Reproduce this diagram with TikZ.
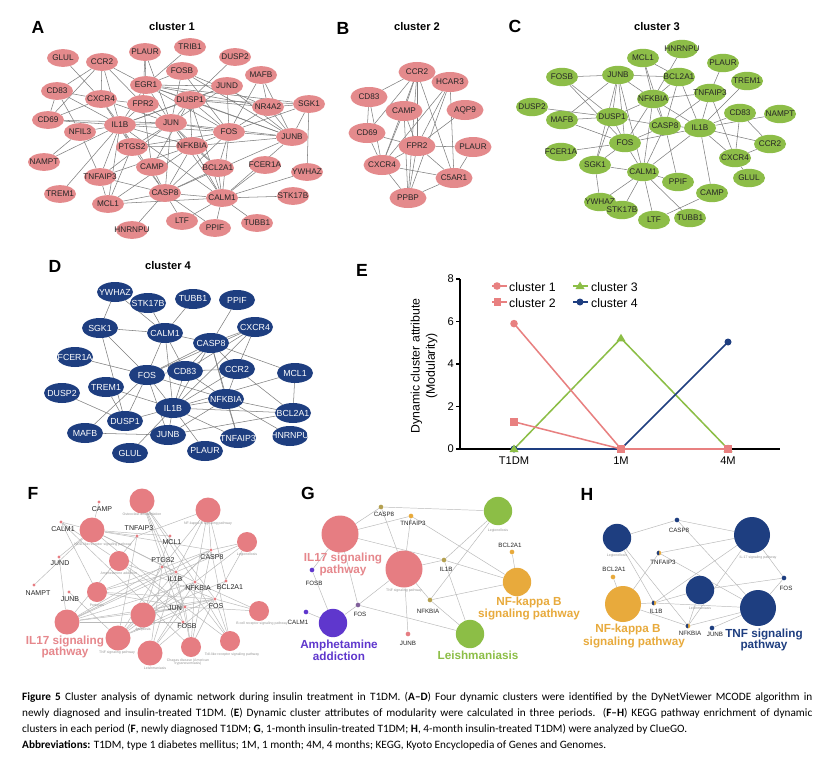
\documentclass[tikz,border=0pt]{standalone}
\usepackage{fontspec}
\setmainfont{Liberation Sans}
\newfontfamily\capfont{Carlito}
\usetikzlibrary{shapes.geometric,backgrounds,calc}
\definecolor{pinkN}{RGB}{228,138,140}
\definecolor{greenN}{RGB}{141,189,72}
\definecolor{navyN}{RGB}{30,62,128}
\definecolor{edgegray}{RGB}{125,125,125}
\definecolor{ledge}{RGB}{185,185,185}
\definecolor{pinkF}{RGB}{230,125,130}
\definecolor{pinkT}{RGB}{230,135,140}
\definecolor{greenG}{RGB}{140,190,70}
\definecolor{orangeG}{RGB}{232,170,60}
\definecolor{purpleG}{RGB}{95,55,205}
\definecolor{oliveG}{RGB}{180,160,80}
\definecolor{tinygray}{RGB}{150,150,150}
\definecolor{cA}{RGB}{232,128,128}
\newcommand\fs[1]{\fontsize{#1}{#1}\selectfont}
\newcommand\gn[4]{\node[#1] (#2) at (#3) {\makebox[0pt]{#4}};}
\begin{document}
\begin{tikzpicture}[x=0.03cm,y=-0.03cm,
  edge/.style={draw=edgegray, line width=0.45pt},
  ledgeS/.style={draw=ledge, line width=0.4pt},
  pA/.style={ellipse, fill=pinkN, minimum width=0.96cm, minimum height=0.53cm, inner sep=0pt, font=\fs{7}, text=black!85},
  pB/.style={pA, minimum width=1.11cm, minimum height=0.6cm},
  gC/.style={ellipse, fill=greenN, minimum width=0.96cm, minimum height=0.55cm, inner sep=0pt, font=\fs{7}, text=black!85},
  bD/.style={ellipse, fill=navyN, minimum width=1.08cm, minimum height=0.6cm, inner sep=0pt, font=\fs{7.5}, text=white},
  letter/.style={font=\fs{15}\bfseries},
  ttl/.style={font=\fs{9.5}\bfseries},
  fbig/.style={circle, fill=pinkF, inner sep=0pt, minimum size=0.75cm},
  fmid/.style={circle, fill=pinkF, inner sep=0pt, minimum size=0.6cm},
  fdot/.style={circle, fill=pinkF, inner sep=0pt, minimum size=0.1cm},
  gdot/.style={circle, inner sep=0pt, minimum size=0.14cm},
  glab/.style={font=\fs{6}, text=black!85, inner sep=0pt},
  hlab/.style={font=\fs{5.3}, text=black!85, inner sep=0pt},
  tiny/.style={font=\fs{3}, text=tinygray, inner sep=0pt, align=center},
  bigl/.style={font=\fs{10}\bfseries, inner sep=0pt, align=center},
  capline/.style={font=\capfont\fs{9.6}, inner sep=0pt, anchor=base west}
]
\begin{pgfonlayer}{background}
\fill[white] (0,0) rectangle (824,758);
\end{pgfonlayer}
\useasboundingbox (0,0) rectangle (824,758);

%% ================= A =================
\node[letter] (labA) at (38,27) {A};
\node[ttl] (tA) at (172,27) {cluster 1};
\gn{pA}{aGLUL}{63,58}{GLUL}
\gn{pA}{aCCR2}{102,62}{CCR2}
\gn{pA}{aPLAUR}{145,52}{PLAUR}
\gn{pA}{aTRIB1}{190,47}{TRIB1}
\gn{pA}{aDUSP2}{235,57}{DUSP2}
\gn{pA}{aFOSB}{182,71}{FOSB}
\gn{pA}{aMAFB}{261,75}{MAFB}
\gn{pA}{aEGR1}{146,85}{EGR1}
\gn{pA}{aJUND}{227,86}{JUND}
\gn{pA}{aCD83}{57,91}{CD83}
\gn{pA}{aCXCR4}{101,99}{CXCR4}
\gn{pA}{aFPR2}{143,104}{FPR2}
\gn{pA}{aDUSP1}{190,100}{DUSP1}
\gn{pA}{aNR4A2}{268,107}{NR4A2}
\gn{pA}{aSGK1}{309,104}{SGK1}
\gn{pA}{aCD69}{48,120}{CD69}
\gn{pA}{aIL1B}{120,125}{IL1B}
\gn{pA}{aJUN}{171,123}{JUN}
\gn{pA}{aNFIL3}{80,132}{NFIL3}
\gn{pA}{aFOS}{229,132}{FOS}
\gn{pA}{aJUNB}{292,137}{JUNB}
\gn{pA}{aPTGS2}{132,147}{PTGS2}
\gn{pA}{aNFKBIA}{192,146}{NFKBIA}
\gn{pA}{aNAMPT}{44,162}{NAMPT}
\gn{pA}{aCAMP}{152,167}{CAMP}
\gn{pA}{aBCL2A1}{218,168}{BCL2A1}
\gn{pA}{aFCER1A}{265,165}{FCER1A}
\gn{pA}{aYWHAZ}{307,172}{YWHAZ}
\gn{pA}{aTNFAIP3}{100,177}{TNFAIP3}
\gn{pA}{aTREM1}{60,194}{TREM1}
\gn{pA}{aCASP8}{165,193}{CASP8}
\gn{pA}{aCALM1}{222,198}{CALM1}
\gn{pA}{aSTK17B}{293,196}{STK17B}
\gn{pA}{aMCL1}{108,204}{MCL1}
\gn{pA}{aLTF}{182,221}{LTF}
\gn{pA}{aPPIF}{215,228}{PPIF}
\gn{pA}{aTUBB1}{257,223}{TUBB1}
\gn{pA}{aHNRNPU}{132,230}{HNRNPU}
\begin{pgfonlayer}{background}
\foreach \u/\v in {aGLUL/aCXCR4, aCCR2/aCD83, aCCR2/aCD69, aCCR2/aCXCR4, aCCR2/aIL1B, aCCR2/aFPR2, aCCR2/aEGR1, aCD83/aCXCR4, aCD83/aCD69, aCD83/aIL1B, aCD83/aNFIL3, aCD69/aCXCR4, aCD69/aIL1B, aCD69/aJUN, aPLAUR/aEGR1, aPLAUR/aFPR2, aPLAUR/aJUN, aTRIB1/aEGR1, aDUSP2/aDUSP1, aFOSB/aEGR1, aFOSB/aJUN, aFOSB/aFOS, aFOSB/aJUNB, aFOSB/aNR4A2, aMAFB/aFOS, aMAFB/aJUNB, aMAFB/aNR4A2, aEGR1/aJUND, aEGR1/aDUSP1, aEGR1/aNR4A2, aEGR1/aJUN, aEGR1/aFOS, aEGR1/aJUNB, aEGR1/aIL1B, aEGR1/aSGK1, aJUND/aDUSP1, aJUND/aFOS, aJUND/aJUNB, aJUND/aJUN, aJUND/aIL1B, aDUSP1/aNR4A2, aDUSP1/aJUNB, aDUSP1/aFOS, aDUSP1/aJUN, aDUSP1/aSGK1, aDUSP1/aCALM1, aDUSP1/aNFKBIA, aDUSP1/aIL1B, aDUSP1/aCAMP, aNR4A2/aJUNB, aNR4A2/aFOS, aNR4A2/aSGK1, aSGK1/aJUNB, aSGK1/aYWHAZ, aSGK1/aFOS, aCXCR4/aIL1B, aCXCR4/aFPR2, aCXCR4/aJUN, aCXCR4/aPTGS2, aFPR2/aIL1B, aFPR2/aCAMP, aFPR2/aJUN, aIL1B/aJUN, aIL1B/aNFKBIA, aIL1B/aPTGS2, aIL1B/aFOS, aIL1B/aCASP8, aIL1B/aTNFAIP3, aIL1B/aMCL1, aIL1B/aTREM1, aIL1B/aNAMPT, aIL1B/aNFIL3, aIL1B/aCALM1, aJUN/aFOS, aJUN/aNFKBIA, aJUN/aJUNB, aJUN/aPTGS2, aJUN/aCASP8, aJUN/aBCL2A1, aJUN/aCALM1, aJUN/aTNFAIP3, aNFIL3/aNAMPT, aNFIL3/aTNFAIP3, aFOS/aJUNB, aFOS/aNFKBIA, aFOS/aCALM1, aFOS/aCASP8, aFOS/aBCL2A1, aFOS/aPTGS2, aJUNB/aNFKBIA, aJUNB/aCALM1, aJUNB/aCASP8, aNFKBIA/aPTGS2, aNFKBIA/aCASP8, aNFKBIA/aBCL2A1, aNFKBIA/aTNFAIP3, aNFKBIA/aCALM1, aNFKBIA/aMCL1, aPTGS2/aCASP8, aPTGS2/aMCL1, aFCER1A/aCALM1, aYWHAZ/aCALM1, aCAMP/aCASP8, aBCL2A1/aCASP8, aBCL2A1/aCALM1, aCASP8/aCALM1, aCASP8/aMCL1, aCASP8/aLTF, aCASP8/aPPIF, aCASP8/aHNRNPU, aCASP8/aTNFAIP3, aCALM1/aSTK17B, aCALM1/aTUBB1, aCALM1/aLTF, aCALM1/aPPIF, aCALM1/aMCL1, aMCL1/aTNFAIP3}
  \draw[edge] (\u) -- (\v);
\end{pgfonlayer}

%% ================= B =================
\node[letter] (labB) at (343,28) {B};
\node[ttl] (tB) at (417,27) {cluster 2};
\gn{pB}{bCCR2}{417,72}{CCR2}
\gn{pB}{bHCAR3}{450,82}{HCAR3}
\gn{pB}{bCD83}{369,97}{CD83}
\gn{pB}{bCAMP}{404,111}{CAMP}
\gn{pB}{bAQP9}{465,110}{AQP9}
\gn{pB}{bCD69}{367,133}{CD69}
\gn{pB}{bFPR2}{417,146}{FPR2}
\gn{pB}{bPLAUR}{473,147}{PLAUR}
\gn{pB}{bCXCR4}{382,165}{CXCR4}
\gn{pB}{bC5AR1}{454,178}{C5AR1}
\gn{pB}{bPPBP}{408,198}{PPBP}
\begin{pgfonlayer}{background}
\foreach \u/\v in {bCCR2/bCD83, bCCR2/bCD69, bCCR2/bCAMP, bCCR2/bCXCR4, bCCR2/bFPR2, bCCR2/bPPBP, bCCR2/bC5AR1, bCCR2/bHCAR3, bHCAR3/bFPR2, bHCAR3/bCXCR4, bHCAR3/bPPBP, bHCAR3/bC5AR1, bCD83/bCD69, bCD83/bCXCR4, bCAMP/bCXCR4, bCAMP/bFPR2, bCAMP/bPPBP, bAQP9/bFPR2, bCD69/bCXCR4, bFPR2/bPLAUR, bFPR2/bCXCR4, bFPR2/bC5AR1, bFPR2/bPPBP, bPLAUR/bC5AR1, bCXCR4/bC5AR1, bCXCR4/bPPBP, bC5AR1/bPPBP, bCD69/bFPR2}
  \draw[edge] (\u) -- (\v);
\end{pgfonlayer}

%% ================= C =================
\node[letter] (labC) at (515,26) {C};
\node[ttl] (tC) at (657,27) {cluster 3};
\gn{gC}{cHNRNPU}{682,49}{HNRNPU}
\gn{gC}{cMCL1}{643,58}{MCL1}
\gn{gC}{cPLAUR}{723,63}{PLAUR}
\gn{gC}{cFOSB}{562,77}{FOSB}
\gn{gC}{cJUNB}{618,75}{JUNB}
\gn{gC}{cBCL2A1}{679,77}{BCL2A1}
\gn{gC}{cTREM1}{747,81}{TREM1}
\gn{gC}{cNFKBIA}{653,99}{NFKBIA}
\gn{gC}{cTNFAIP3}{710,93}{TNFAIP3}
\gn{gC}{cDUSP2}{532,107}{DUSP2}
\gn{gC}{cCD83}{740,113}{CD83}
\gn{gC}{cNAMPT}{780,114}{NAMPT}
\gn{gC}{cMAFB}{562,120}{MAFB}
\gn{gC}{cDUSP1}{612,117}{DUSP1}
\gn{gC}{cCASP8}{665,126}{CASP8}
\gn{gC}{cIL1B}{700,128}{IL1B}
\gn{gC}{cFOS}{625,143}{FOS}
\gn{gC}{cCCR2}{770,144}{CCR2}
\gn{gC}{cFCER1A}{561,152}{FCER1A}
\gn{gC}{cCXCR4}{735,158}{CXCR4}
\gn{gC}{cSGK1}{595,165}{SGK1}
\gn{gC}{cCALM1}{643,172}{CALM1}
\gn{gC}{cGLUL}{749,178}{GLUL}
\gn{gC}{cPPIF}{678,182}{PPIF}
\gn{gC}{cYWHAZ}{600,202}{YWHAZ}
\gn{gC}{cCAMP}{712,193}{CAMP}
\gn{gC}{cSTK17B}{622,210}{STK17B}
\gn{gC}{cLTF}{654,220}{LTF}
\gn{gC}{cTUBB1}{690,218}{TUBB1}
\begin{pgfonlayer}{background}
\foreach \u/\v in {cFOSB/cJUNB, cFOSB/cDUSP1, cFOSB/cFOS, cJUNB/cBCL2A1, cJUNB/cNFKBIA, cJUNB/cDUSP1, cJUNB/cFOS, cJUNB/cMAFB, cJUNB/cSGK1, cJUNB/cCALM1, cMCL1/cBCL2A1, cMCL1/cNFKBIA, cMCL1/cCASP8, cHNRNPU/cNFKBIA, cPLAUR/cTNFAIP3, cBCL2A1/cNFKBIA, cBCL2A1/cIL1B, cBCL2A1/cCASP8, cTREM1/cIL1B, cNFKBIA/cTNFAIP3, cNFKBIA/cDUSP1, cNFKBIA/cFOS, cNFKBIA/cCASP8, cNFKBIA/cIL1B, cNFKBIA/cCALM1, cTNFAIP3/cIL1B, cTNFAIP3/cCASP8, cTNFAIP3/cCXCR4, cDUSP2/cDUSP1, cDUSP1/cCASP8, cDUSP1/cFOS, cDUSP1/cSGK1, cDUSP1/cMAFB, cMAFB/cFOS, cCASP8/cIL1B, cCASP8/cFOS, cCASP8/cCALM1, cCASP8/cPPIF, cIL1B/cCD83, cIL1B/cNAMPT, cIL1B/cCCR2, cIL1B/cCXCR4, cIL1B/cFOS, cIL1B/cCALM1, cIL1B/cCAMP, cCD83/cCXCR4, cCD83/cCCR2, cCCR2/cCXCR4, cCXCR4/cGLUL, cFOS/cFCER1A, cFOS/cSGK1, cFOS/cCALM1, cSGK1/cCALM1, cSGK1/cYWHAZ, cCALM1/cPPIF, cCALM1/cYWHAZ, cCALM1/cSTK17B, cCALM1/cLTF, cCALM1/cTUBB1, cCAMP/cLTF}
  \draw[edge] (\u) -- (\v);
\end{pgfonlayer}

%% ================= D =================
\node[letter] (labD) at (55,266) {D};
\node[ttl] (tD) at (168,266) {cluster 4};
\gn{bD}{dYWHAZ}{115,292}{YWHAZ}
\gn{bD}{dSTK17B}{148,303}{STK17B}
\gn{bD}{dTUBB1}{193,299}{TUBB1}
\gn{bD}{dPPIF}{237,300}{PPIF}
\gn{bD}{dSGK1}{100,328}{SGK1}
\gn{bD}{dCALM1}{165,333}{CALM1}
\gn{bD}{dCXCR4}{255,327}{CXCR4}
\gn{bD}{dCASP8}{211,343}{CASP8}
\gn{bD}{dFCER1A}{75,357}{FCER1A}
\gn{bD}{dFOS}{147,375}{FOS}
\gn{bD}{dCD83}{185,371}{CD83}
\gn{bD}{dCCR2}{237,369}{CCR2}
\gn{bD}{dMCL1}{295,373}{MCL1}
\gn{bD}{dTREM1}{106,387}{TREM1}
\gn{bD}{dDUSP2}{62,393}{DUSP2}
\gn{bD}{dNFKBIA}{226,399}{NFKBIA}
\gn{bD}{dIL1B}{173,408}{IL1B}
\gn{bD}{dBCL2A1}{293,413}{BCL2A1}
\gn{bD}{dDUSP1}{125,421}{DUSP1}
\gn{bD}{dMAFB}{85,433}{MAFB}
\gn{bD}{dJUNB}{168,435}{JUNB}
\gn{bD}{dTNFAIP3}{238,438}{TNFAIP3}
\gn{bD}{dHNRNPU}{290,436}{HNRNPU}
\gn{bD}{dGLUL}{130,453}{GLUL}
\gn{bD}{dPLAUR}{205,451}{PLAUR}
\begin{pgfonlayer}{background}
\foreach \u/\v in {dYWHAZ/dSGK1, dYWHAZ/dCALM1, dSTK17B/dCALM1, dTUBB1/dCALM1, dPPIF/dCASP8, dSGK1/dCALM1, dSGK1/dFOS, dSGK1/dDUSP1, dCALM1/dCASP8, dCALM1/dFOS, dCALM1/dIL1B, dCALM1/dCD83, dCXCR4/dCASP8, dCXCR4/dIL1B, dCXCR4/dCCR2, dCXCR4/dFOS, dCXCR4/dCD83, dCASP8/dCD83, dCASP8/dIL1B, dCASP8/dNFKBIA, dCASP8/dCCR2, dCASP8/dMCL1, dCASP8/dTNFAIP3, dCASP8/dFOS, dFCER1A/dFOS, dFOS/dIL1B, dFOS/dDUSP1, dFOS/dJUNB, dFOS/dMAFB, dFOS/dNFKBIA, dFOS/dCD83, dCD83/dIL1B, dCD83/dNFKBIA, dCD83/dCCR2, dCCR2/dIL1B, dCCR2/dNFKBIA, dCCR2/dBCL2A1, dMCL1/dBCL2A1, dMCL1/dIL1B, dTREM1/dIL1B, dTREM1/dDUSP1, dDUSP2/dDUSP1, dNFKBIA/dIL1B, dNFKBIA/dBCL2A1, dNFKBIA/dTNFAIP3, dNFKBIA/dJUNB, dNFKBIA/dHNRNPU, dIL1B/dBCL2A1, dIL1B/dDUSP1, dIL1B/dJUNB, dIL1B/dTNFAIP3, dIL1B/dPLAUR, dIL1B/dGLUL, dJUNB/dBCL2A1, dJUNB/dMAFB}
  \draw[edge] (\u) -- (\v);
\end{pgfonlayer}

%% ================= E =================
\node[letter] (labE) at (362,270) {E};
\coordinate (eO) at (460,449);
\coordinate (eTop) at (460,279);
\coordinate (eEnd) at (780,449);
\draw[line width=1.1pt] (eTop) -- (eO) -- (eEnd);
\foreach \v in {0,2,4,6,8} {
  \coordinate (et\v) at (460,449-21.25*\v);
  \draw[line width=1.1pt] (et\v) -- ++(-4,0);
  \node[font=\fs{9.5}, anchor=east, inner sep=0pt] (etl\v) at (454,449-21.25*\v) {\v};
}
\node[font=\fs{9.5}, inner sep=0pt] (ex1) at (514,461) {T1DM};
\node[font=\fs{9.5}, inner sep=0pt] (ex2) at (621,461) {1M};
\node[font=\fs{9.5}, inner sep=0pt] (ex3) at (728,461) {4M};
\node[font=\fontsize{10.5}{13}\selectfont, rotate=90, align=center, inner sep=0pt] (eyl) at (424,366) {Dynamic cluster attribute\\(Modularity)};
\coordinate (p1a) at (514,323.6); \coordinate (p1b) at (621,449); \coordinate (p1c) at (728,449);
\coordinate (p2a) at (514,421.8); \coordinate (p2b) at (621,449); \coordinate (p2c) at (728,449);
\coordinate (p3a) at (514,449); \coordinate (p3b) at (621,338.3); \coordinate (p3c) at (728,449);
\coordinate (p4a) at (514,449); \coordinate (p4b) at (621,449); \coordinate (p4c) at (728,342);
\draw[greenG, line width=1.3pt] (p3a) -- (p3b) -- (p3c);
\draw[navyN, line width=1.3pt] (p4a) -- (p4b) -- (p4c);
\draw[cA, line width=1.3pt] (p1a) -- (p1b) -- (p1c);
\draw[cA, line width=1.3pt] (p2a) -- (p2b) -- (p2c);
\foreach \p in {p4a,p4b,p4c} \fill[navyN] (\p) circle (3.5);
\foreach \p in {p3a,p3b,p3c} \fill[greenG] ($(\p)+(0,-4.5)$) -- ++(4.5,7.5) -- ++(-9,0) -- cycle;
\foreach \p in {p1a} \fill[cA] (\p) circle (3.8);
\foreach \p in {p2a,p2b,p2c} \fill[cA] ($(\p)+(-3.8,-3.8)$) rectangle ++(7.6,7.6);
% legend
\coordinate (l1a) at (492,286); \coordinate (l1b) at (507,286);
\coordinate (l2a) at (492,302); \coordinate (l2b) at (507,302);
\coordinate (l3a) at (573,286); \coordinate (l3b) at (588,286);
\coordinate (l4a) at (573,302); \coordinate (l4b) at (588,302);
\draw[cA, line width=1.3pt] (l1a) -- (l1b); \fill[cA] (497,286) circle (3.8);
\draw[cA, line width=1.3pt] (l2a) -- (l2b); \fill[cA] (493.5,298.2) rectangle ++(7.6,7.6);
\draw[greenG, line width=1.3pt] (l3a) -- (l3b); \fill[greenG] (580,281.5) -- ++(4.5,7.5) -- ++(-9,0) -- cycle;
\draw[navyN, line width=1.3pt] (l4a) -- (l4b); \fill[navyN] (580,302) circle (3.5);
\node[font=\fs{10.5}, anchor=west, inner sep=0pt] (lt1) at (509,287) {cluster 1};
\node[font=\fs{10.5}, anchor=west, inner sep=0pt] (lt2) at (509,303) {cluster 2};
\node[font=\fs{10.5}, anchor=west, inner sep=0pt] (lt3) at (591,287) {cluster 3};
\node[font=\fs{10.5}, anchor=west, inner sep=0pt] (lt4) at (591,303) {cluster 4};

%% ================= F =================
\node[letter] (labF) at (33,493) {F};
\node[fbig] (fC1) at (142,501) {};
\node[fbig] (fC2) at (208,510) {};
\node[fbig] (fC3) at (92,530) {};
\node[fmid] (fC4) at (247,542) {};
\node[fmid] (fC5) at (119,561) {};
\node[fmid] (fC6) at (97,592) {};
\node[fbig] (fC7) at (67,622) {};
\node[fbig] (fC8) at (143,615) {};
\node[fbig] (fC9) at (118,638) {};
\node[fbig] (fC10) at (150,653) {};
\node[fmid] (fC11) at (191,647) {};
\node[fmid] (fC12) at (230,641) {};
\node[fmid] (fC13) at (259,611) {};
\node[tiny] (fC1l) at (142,514.5) {Osteoclast differentiation};
\node[tiny] (fC2l) at (208,523.5) {NF-kappa B signaling pathway};
\node[tiny] (fC3l) at (103,545) {NOD-like receptor signaling pathway};
\node[tiny] (fC4l) at (247,555) {Legionellosis};
\node[tiny] (fC5l) at (119,574) {Amphetamine addiction};
\node[tiny] (fC6l) at (97,605) {Pertussis};
\node[tiny] (fC8l) at (143,630) {Apoptosis};
\node[tiny] (fC9l) at (117,653) {TNF signaling pathway};
\node[tiny] (fC10l) at (155,668) {Leishmaniasis};
\node[tiny] (fC11l) at (188,662) {Chagas disease (American\\trypanosomiasis)};
\node[tiny] (fC12l) at (232,655) {Toll-like receptor signaling pathway};
\node[tiny] (fC13l) at (262,624) {B cell receptor signaling pathway};
\node[bigl, text=pinkT] (fIL17) at (65,647) {IL17 signaling\\pathway};
\node[fdot] (fCAMP) at (99,502) {};
\node[fdot] (fCALM1) at (61,522) {};
\node[fdot] (fTNFAIP3) at (137,536) {};
\node[fdot] (fMCL1) at (170,536) {};
\node[fdot] (fJUND) at (59,557) {};
\node[fdot] (fPTGS2) at (162,567) {};
\node[fdot] (fCASP8) at (211,550) {};
\node[fdot] (fIL1B) at (176,572) {};
\node[fdot] (fNAMPT) at (34,585) {};
\node[fdot] (fJUNB) at (69,592) {};
\node[fdot] (fNFKBIA) at (195,582) {};
\node[fdot] (fBCL2A1) at (226,581) {};
\node[fdot] (fJUN) at (185,607) {};
\node[fdot] (fFOS) at (215,599) {};
\node[fdot] (fFOSB) at (183,622) {};
\node[glab] (fCAMPl) at (102,509) {CAMP};
\node[glab] (fCALM1l) at (63,529) {CALM1};
\node[glab] (fTNFAIP3l) at (139,528) {TNFAIP3};
\node[glab] (fMCL1l) at (172,542) {MCL1};
\node[glab] (fJUNDl) at (60,563) {JUND};
\node[glab] (fPTGS2l) at (163,560) {PTGS2};
\node[glab] (fCASP8l) at (212,557) {CASP8};
\node[glab] (fIL1Bl) at (175,579) {IL1B};
\node[glab] (fNAMPTl) at (38,593) {NAMPT};
\node[glab] (fJUNBl) at (70,599) {JUNB};
\node[glab] (fNFKBIAl) at (198,588) {NFKBIA};
\node[glab] (fBCL2A1l) at (230,587) {BCL2A1};
\node[glab] (fJUNl) at (175,608) {JUN};
\node[glab] (fFOSl) at (216,606) {FOS};
\node[glab] (fFOSBl) at (187,626) {FOSB};
\begin{pgfonlayer}{background}
\foreach \c/\g in {fC1/fJUN, fC1/fFOS, fC1/fFOSB, fC1/fNFKBIA, fC1/fIL1B, fC2/fIL1B, fC2/fNFKBIA, fC2/fPTGS2, fC2/fTNFAIP3, fC2/fBCL2A1, fC2/fCASP8, fC3/fCAMP, fC3/fCALM1, fC3/fTNFAIP3, fC3/fJUN, fC3/fNFKBIA, fC3/fIL1B, fC3/fCASP8, fC3/fMCL1, fC3/fNAMPT, fC3/fJUND, fC4/fCASP8, fC4/fIL1B, fC4/fNFKBIA, fC4/fFOS, fC5/fCALM1, fC5/fFOSB, fC5/fFOS, fC5/fJUN, fC6/fCALM1, fC6/fIL1B, fC6/fJUN, fC6/fFOS, fC6/fCASP8, fC7/fJUND, fC7/fCASP8, fC7/fIL1B, fC7/fNFKBIA, fC7/fJUN, fC7/fFOS, fC7/fFOSB, fC7/fPTGS2, fC7/fTNFAIP3, fC8/fCASP8, fC8/fJUN, fC8/fFOS, fC8/fNFKBIA, fC8/fBCL2A1, fC8/fMCL1, fC9/fCASP8, fC9/fIL1B, fC9/fNFKBIA, fC9/fJUN, fC9/fFOS, fC9/fPTGS2, fC9/fTNFAIP3, fC9/fJUNB, fC10/fIL1B, fC10/fNFKBIA, fC10/fJUN, fC10/fFOS, fC10/fPTGS2, fC11/fCASP8, fC11/fIL1B, fC11/fNFKBIA, fC11/fJUN, fC11/fFOS, fC11/fCALM1, fC12/fCASP8, fC12/fIL1B, fC12/fNFKBIA, fC12/fJUN, fC12/fFOS, fC13/fNFKBIA, fC13/fJUN, fC13/fFOS}
  \draw[ledgeS] (\c) -- (\g);
\end{pgfonlayer}

%% ================= G =================
\node[letter] (labG) at (308,493) {G};
\node[circle, fill=pinkF, inner sep=0pt, minimum size=1.11cm] (gIL17) at (340,534) {};
\node[circle, fill=pinkF, inner sep=0pt, minimum size=1.11cm] (gTNF) at (404,569) {};
\node[circle, fill=greenG, inner sep=0pt, minimum size=0.85cm] (gLeg) at (498,511) {};
\node[circle, fill=orangeG, inner sep=0pt, minimum size=0.85cm] (gNFkB) at (517,582) {};
\node[circle, fill=greenG, inner sep=0pt, minimum size=0.85cm] (gLeish) at (470,634) {};
\node[circle, fill=purpleG, inner sep=0pt, minimum size=0.85cm] (gAmph) at (333,623) {};
\node[tiny] (gLegl) at (498,531) {Legionellosis};
\node[tiny] (gTNFl) at (404,591) {TNF signaling pathway};
\node[bigl, text=pinkT] (gIL17l) at (343,564.5) {IL17 signaling\\pathway};
\node[bigl, text=orangeG] (gNFkBl) at (529,608.5) {NF-kappa B\\signaling pathway};
\node[bigl, text=purpleG] (gAmphl) at (339,650) {Amphetamine\\addiction};
\node[bigl, text=greenG] (gLeishl) at (478,655) {Leishmaniasis};
\node[gdot, fill=oliveG] (gCASP8) at (381,507) {};
\node[gdot, fill=orangeG] (gTNFAIP3) at (411,516) {};
\node[gdot, fill=orangeG] (gBCL2A1) at (512,552) {};
\node[gdot, fill=oliveG] (gIL1B) at (444,560) {};
\node[gdot, fill=purpleG] (gFOSB) at (312,570) {};
\node[gdot, fill=purpleG!60!oliveG] (gFOS) at (358,605) {};
\node[gdot, fill=oliveG] (gNFKBIA) at (430,600) {};
\node[gdot, fill=purpleG] (gCALM1) at (306,612) {};
\node[gdot, fill=pinkF] (gJUNB) at (408,634) {};
\node[hlab] (gCASP8l) at (384,514) {CASP8};
\node[hlab] (gTNFAIP3l) at (413,523) {TNFAIP3};
\node[hlab] (gBCL2A1l) at (510,545) {BCL2A1};
\node[hlab] (gIL1Bl) at (446,569) {IL1B};
\node[hlab] (gFOSBl) at (314,583) {FOSB};
\node[hlab] (gFOSl) at (360,614) {FOS};
\node[hlab] (gNFKBIAl) at (428,611) {NFKBIA};
\node[hlab] (gCALM1l) at (298,622) {CALM1};
\node[hlab] (gJUNBl) at (408,643) {JUNB};
\begin{pgfonlayer}{background}
\foreach \c/\g in {gCASP8/gIL17, gCASP8/gTNF, gCASP8/gLeg, gTNFAIP3/gIL17, gTNFAIP3/gTNF, gTNFAIP3/gNFkB, gIL1B/gIL17, gIL1B/gTNF, gIL1B/gLeg, gIL1B/gNFkB, gIL1B/gLeish, gNFKBIA/gTNF, gNFKBIA/gLeg, gNFKBIA/gNFkB, gNFKBIA/gLeish, gBCL2A1/gNFkB, gFOSB/gAmph, gFOSB/gIL17, gFOS/gIL17, gFOS/gTNF, gFOS/gAmph, gFOS/gLeish, gCALM1/gAmph, gJUNB/gTNF}
  \draw[ledgeS] (\c) -- (\g);
\end{pgfonlayer}

%% ================= H =================
\node[letter] (labH) at (587,494) {H};
\node[circle, fill=navyN, inner sep=0pt, minimum size=0.85cm] (hLeg) at (617,538) {};
\node[circle, fill=navyN, inner sep=0pt, minimum size=1.08cm] (hIL17) at (752,535) {};
\node[circle, fill=navyN, inner sep=0pt, minimum size=0.85cm] (hLeish) at (700,590) {};
\node[circle, fill=navyN, inner sep=0pt, minimum size=1.08cm] (hTNF) at (758,608) {};
\node[circle, fill=orangeG, inner sep=0pt, minimum size=1.08cm] (hNFkB) at (623,604) {};
\node[tiny] (hLegl) at (617,556) {Legionellosis};
\node[tiny] (hIL17l) at (758,558) {IL-17 signaling pathway};
\node[tiny] (hLeishl) at (700,608) {Leishmaniasis};
\node[bigl, text=orangeG] (hNFkBl1) at (628,629) {NF-kappa B};
\node[bigl, text=orangeG] (hNFkBl2) at (634,642.5) {signaling pathway};
\node[bigl, text=navyN] (hTNFl) at (764,640) {TNF signaling\\pathway};
\node[gdot, fill=navyN] (hCASP8) at (677,520) {};
\node[gdot, fill=orangeG] (hTNFAIP3) at (659,553) {};
\fill[navyN] (659,555.33) arc (90:270:2.33) -- cycle;
\node[gdot, fill=orangeG] (hBCL2A1) at (613,577) {};
\node[gdot, fill=navyN] (hFOS) at (784,578) {};
\node[gdot, fill=orangeG] (hIL1B) at (654,603) {};
\fill[navyN] (654,605.33) arc (90:270:2.33) -- cycle;
\node[gdot, fill=orangeG] (hNFKBIA) at (688,626) {};
\fill[navyN] (688,628.33) arc (90:270:2.33) -- cycle;
\node[gdot, fill=navyN] (hJUNB) at (712,628) {};
\node[hlab] (hCASP8l) at (679,530) {CASP8};
\node[hlab] (hTNFAIP3l) at (663,562) {TNFAIP3};
\node[hlab] (hBCL2A1l) at (614,569) {BCL2A1};
\node[hlab] (hFOSl) at (786,588) {FOS};
\node[hlab] (hIL1Bl) at (656,611) {IL1B};
\node[hlab] (hNFKBIAl) at (690,633) {NFKBIA};
\node[hlab] (hJUNBl) at (715,634) {JUNB};
\begin{pgfonlayer}{background}
\foreach \c/\g in {hCASP8/hLeg, hCASP8/hIL17, hCASP8/hTNF, hTNFAIP3/hIL17, hTNFAIP3/hNFkB, hTNFAIP3/hTNF, hIL1B/hLeg, hIL1B/hNFkB, hIL1B/hLeish, hIL1B/hIL17, hIL1B/hTNF, hNFKBIA/hLeg, hNFKBIA/hIL17, hNFKBIA/hLeish, hNFKBIA/hTNF, hNFKBIA/hNFkB, hBCL2A1/hNFkB, hFOS/hIL17, hFOS/hTNF, hFOS/hLeish, hJUNB/hTNF}
  \draw[ledgeS] (\c) -- (\g);
\end{pgfonlayer}

%% ================= caption =================
\node[capline] (cap1) at (22,700) {\hbox to 23.7cm{\textbf{Figure 5} Cluster analysis of dynamic network during insulin treatment in T1DM. (\textbf{A–D}) Four dynamic clusters were identified by the DyNetViewer MCODE algorithm in}};
\node[capline] (cap2) at (22,716) {\hbox to 23.7cm{newly diagnosed and insulin-treated T1DM. (\textbf{E}) Dynamic cluster attributes of modularity were calculated in three periods. (\textbf{F–H}) KEGG pathway enrichment of dynamic}};
\node[capline] (cap3) at (22,732) {clusters in each period (\textbf{F}, newly diagnosed T1DM; \textbf{G}, 1-month insulin-treated T1DM; \textbf{H}, 4-month insulin-treated T1DM) were analyzed by ClueGO.};
\node[capline] (cap4) at (22,748) {\textbf{Abbreviations:} T1DM, type 1 diabetes mellitus; 1M, 1 month; 4M, 4 months; KEGG, Kyoto Encyclopedia of Genes and Genomes.};
\end{tikzpicture}
\end{document}
